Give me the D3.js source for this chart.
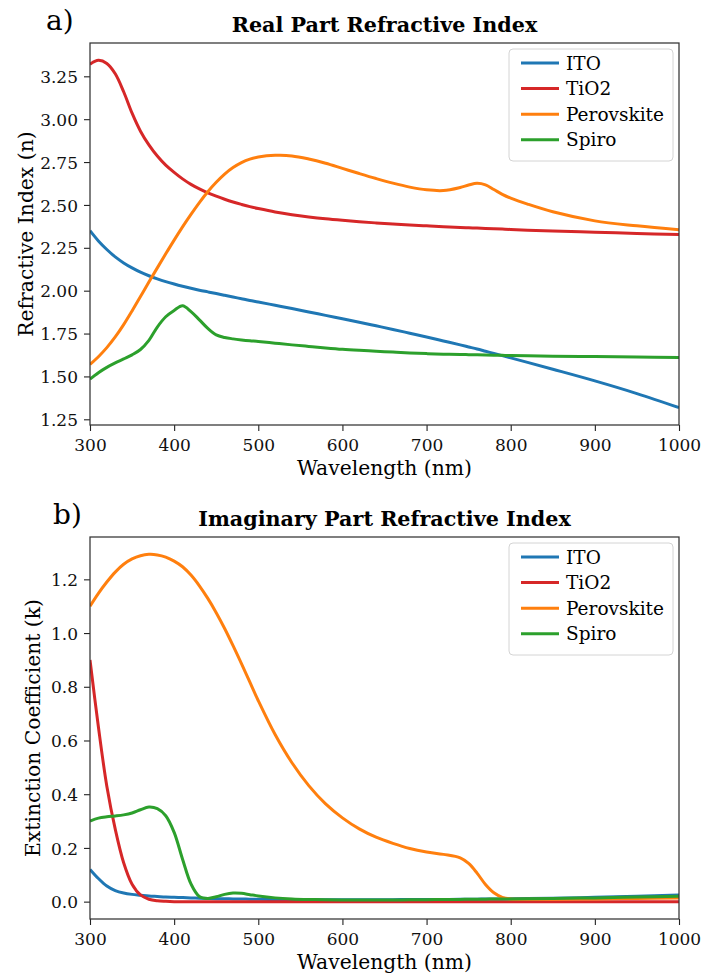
<!DOCTYPE html>
<html>
<head>
<meta charset="utf-8">
<script src="https://cdn.jsdelivr.net/npm/d3@7"></script>
<style>
  html, body { margin: 0; padding: 0; background: #fff; }
  svg { display: block; }
  .lbl { font-family: "DejaVu Serif", serif; fill: #000; }
  .tk { font-family: "DejaVu Serif", serif; fill: #111; }
</style>
</head>
<body>
<svg id="chart" width="701" height="975"></svg>
<script>
// Wavelength grid (nm) shared by all series
const wavelength = [300,310,320,330,340,350,360,370,380,390,400,410,420,430,440,450,460,470,480,490,500,520,540,560,580,600,620,640,660,680,700,720,740,750,760,770,780,790,800,820,850,900,950,1000];

const materials = ["ITO", "TiO2", "Perovskite", "Spiro"];
const colors = ["#1f77b4", "#d62728", "#ff7f0e", "#2ca02c"];

// Real part n
const nITO = [2.35,2.29,2.24,2.197,2.162,2.133,2.108,2.087,2.069,2.053,2.039,2.026,2.014,2.003,1.993,1.983,1.973,1.963,1.953,1.943,1.934,1.915,1.896,1.876,1.856,1.836,1.816,1.795,1.774,1.752,1.73,1.707,1.684,1.672,1.66,1.647,1.634,1.621,1.608,1.582,1.542,1.474,1.40,1.318];
const nTiO2 = [3.32,3.343,3.325,3.265,3.16,3.035,2.93,2.85,2.785,2.732,2.69,2.652,2.62,2.594,2.571,2.551,2.533,2.517,2.503,2.49,2.479,2.459,2.443,2.43,2.419,2.41,2.402,2.395,2.389,2.383,2.378,2.373,2.369,2.367,2.365,2.363,2.361,2.359,2.357,2.353,2.348,2.341,2.334,2.327];
const nPerovskite = [1.57,1.615,1.668,1.73,1.802,1.882,1.966,2.05,2.133,2.215,2.295,2.372,2.445,2.514,2.577,2.632,2.68,2.718,2.747,2.767,2.779,2.789,2.786,2.768,2.743,2.713,2.683,2.654,2.627,2.604,2.588,2.584,2.602,2.616,2.626,2.617,2.59,2.562,2.54,2.505,2.46,2.407,2.378,2.355];
const nSpiro = [1.484,1.522,1.553,1.579,1.602,1.626,1.657,1.71,1.788,1.848,1.885,1.912,1.878,1.83,1.78,1.742,1.727,1.719,1.713,1.708,1.704,1.694,1.684,1.675,1.666,1.658,1.652,1.647,1.642,1.637,1.633,1.63,1.628,1.627,1.626,1.625,1.624,1.623,1.622,1.62,1.618,1.616,1.613,1.611];

// Imaginary part k
const kITO = [0.12,0.086,0.058,0.041,0.032,0.027,0.024,0.021,0.019,0.017,0.016,0.015,0.014,0.013,0.012,0.011,0.011,0.010,0.010,0.009,0.009,0.008,0.008,0.007,0.007,0.007,0.007,0.007,0.007,0.008,0.008,0.008,0.009,0.009,0.009,0.010,0.010,0.010,0.011,0.012,0.013,0.016,0.020,0.025];
const kTiO2 = [0.90,0.65,0.43,0.27,0.145,0.065,0.025,0.009,0.003,0.001,0,0,0,0,0,0,0,0,0,0,0,0,0,0,0,0,0,0,0,0,0,0,0,0,0,0,0,0,0,0,0,0,0,0];
const kPerovskite = [1.10,1.148,1.19,1.227,1.256,1.276,1.288,1.293,1.291,1.283,1.268,1.247,1.216,1.176,1.129,1.076,1.017,0.953,0.886,0.817,0.748,0.622,0.517,0.432,0.364,0.312,0.271,0.24,0.217,0.198,0.185,0.176,0.163,0.142,0.106,0.064,0.033,0.016,0.010,0.009,0.009,0.010,0.012,0.014];
const kSpiro = [0.30,0.311,0.316,0.319,0.323,0.33,0.342,0.352,0.346,0.32,0.258,0.158,0.066,0.019,0.012,0.018,0.027,0.032,0.031,0.026,0.021,0.014,0.010,0.008,0.007,0.006,0.006,0.006,0.006,0.007,0.007,0.008,0.008,0.009,0.009,0.009,0.010,0.010,0.010,0.011,0.012,0.014,0.017,0.020];

const xTicks = [300,400,500,600,700,800,900,1000];
const nTicks = [1.25,1.50,1.75,2.00,2.25,2.50,2.75,3.00,3.25];
const kTicks = [0.0,0.2,0.4,0.6,0.8,1.0,1.2];

const svg = d3.select("#chart");

function panel(opts) {
  const { left, right, top, bottom, series, yTicks, yFmt, title, letter, letterX, ylabel, ylabelX, clipId } = opts;
  const g = svg.append("g");

  // y domain: data range padded by 5% on each side
  const all = series.flat();
  const lo = d3.min(all), hi = d3.max(all), pad = (hi - lo) * 0.05;
  const x = d3.scaleLinear().domain([300, 1000]).range([left, right]);
  const y = d3.scaleLinear().domain([lo - pad, hi + pad]).range([bottom, top]);

  svg.append("defs").append("clipPath").attr("id", clipId)
    .append("rect").attr("x", left).attr("y", top).attr("width", right - left).attr("height", bottom - top);

  const line = d3.line().x((d, i) => x(wavelength[i])).y(d => y(d)).curve(d3.curveCatmullRom.alpha(0.5));
  const lines = g.append("g").attr("clip-path", `url(#${clipId})`);
  series.forEach((vals, i) => {
    lines.append("path").datum(vals)
      .attr("d", line)
      .attr("fill", "none")
      .attr("stroke", colors[i])
      .attr("stroke-width", 3)
      .attr("stroke-linejoin", "round");
  });

  // axes
  const xAxis = g.append("g").attr("transform", `translate(0,${bottom})`)
    .call(d3.axisBottom(x).tickValues(xTicks).tickSize(6).tickPadding(6).tickFormat(d3.format("d")));
  const yAxis = g.append("g").attr("transform", `translate(${left},0)`)
    .call(d3.axisLeft(y).tickValues(yTicks).tickSize(6).tickPadding(6).tickFormat(d3.format(yFmt)));
  [xAxis, yAxis].forEach(a => {
    a.attr("font-family", null).attr("font-size", null);
    a.select(".domain").remove();
    a.selectAll(".tick line").attr("stroke", "#222").attr("stroke-width", 1.1);
    a.selectAll(".tick text").attr("class", "tk").attr("fill", null).attr("font-size", "17px");
  });
  xAxis.selectAll(".tick text").attr("dy", "0.8em");
  yAxis.selectAll(".tick text").attr("dy", "0.36em");

  // frame
  g.append("rect").attr("x", left).attr("y", top).attr("width", right - left).attr("height", bottom - top)
    .attr("fill", "none").attr("stroke", "#333").attr("stroke-width", 1.25);

  // title and panel letter
  g.append("text").attr("class", "lbl").attr("x", (left + right) / 2).attr("y", top - 11)
    .attr("text-anchor", "middle").attr("font-weight", "bold").attr("font-size", "20.7px").text(title);
  g.append("text").attr("class", "lbl").attr("x", letterX).attr("y", top - 13)
    .attr("font-size", "28px").text(letter);

  // axis labels
  g.append("text").attr("class", "lbl").attr("x", (left + right) / 2).attr("y", bottom + 50)
    .attr("text-anchor", "middle").attr("font-size", "20.3px").text("Wavelength (nm)");
  g.append("text").attr("class", "lbl").attr("transform", `translate(${ylabelX},${(top + bottom) / 2}) rotate(-90)`)
    .attr("text-anchor", "middle").attr("font-size", "20.3px").text(ylabel);

  // legend
  const lg = g.append("g");
  const lx = right - 170, ly = top + 6;
  lg.append("rect").attr("x", lx).attr("y", ly).attr("width", 164).attr("height", 112)
    .attr("rx", 4).attr("fill", "#fff").attr("fill-opacity", 0.8)
    .attr("stroke", "#d4d4d4").attr("stroke-width", 1);
  materials.forEach((m, i) => {
    const cy = ly + 14 + i * 25.6;
    lg.append("line").attr("x1", lx + 12).attr("x2", lx + 50).attr("y1", cy).attr("y2", cy)
      .attr("stroke", colors[i]).attr("stroke-width", 3);
    lg.append("text").attr("class", "lbl").attr("x", lx + 57).attr("y", cy + 6.5)
      .attr("font-size", "18.5px").text(m);
  });
}

panel({
  left: 90, right: 679, top: 43, bottom: 425,
  series: [nITO, nTiO2, nPerovskite, nSpiro],
  yTicks: nTicks, yFmt: ".2f",
  title: "Real Part Refractive Index", letter: "a)", letterX: 46,
  ylabel: "Refractive Index (n)", ylabelX: 33, clipId: "clipA"
});
panel({
  left: 90, right: 679, top: 537, bottom: 919,
  series: [kITO, kTiO2, kPerovskite, kSpiro],
  yTicks: kTicks, yFmt: ".1f",
  title: "Imaginary Part Refractive Index", letter: "b)", letterX: 53,
  ylabel: "Extinction Coefficient (k)", ylabelX: 40, clipId: "clipB"
});
</script>
</body>
</html>
